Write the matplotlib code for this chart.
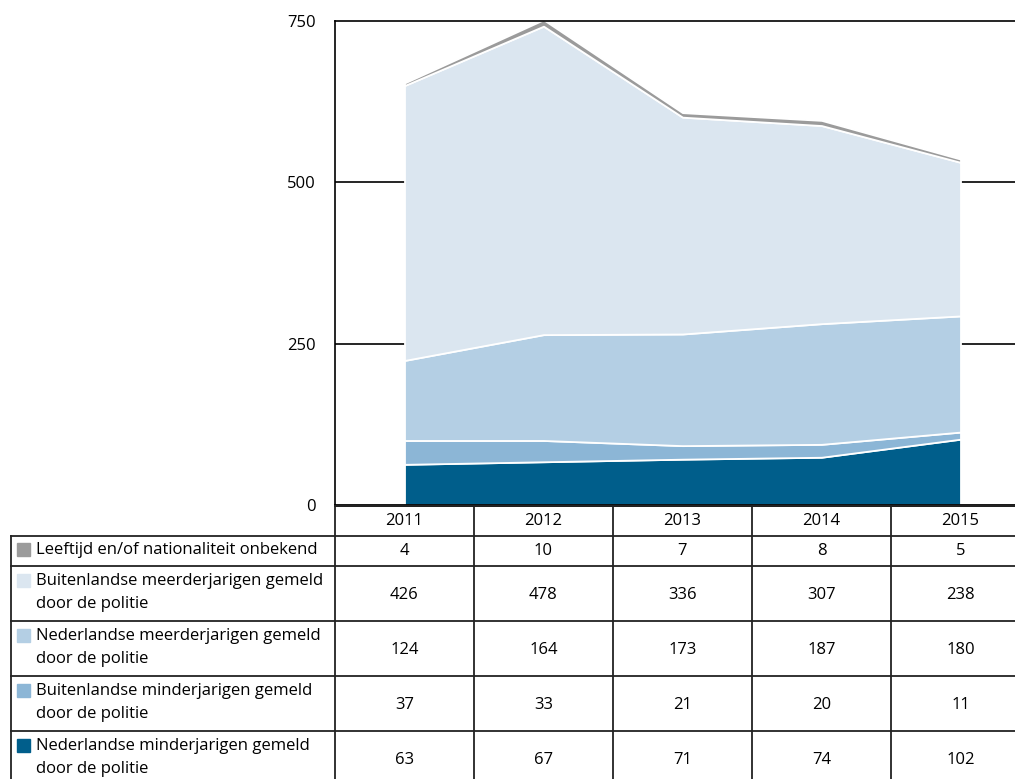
import matplotlib.pyplot as plt
import numpy as np

plt.rcParams['font.family'] = ['Open Sans', 'DejaVu Sans']

# jaren en reeksen (van onder naar boven gestapeld)
jaren = [2011, 2012, 2013, 2014, 2015]
nl_minder = [63, 67, 71, 74, 102]
bl_minder = [37, 33, 21, 20, 11]
nl_meer = [124, 164, 173, 187, 180]
bl_meer = [426, 478, 336, 307, 238]
onbekend = [4, 10, 7, 8, 5]

reeksen = [nl_minder, bl_minder, nl_meer, bl_meer, onbekend]
kleuren = ['#005e8b', '#8cb6d6', '#b4cfe4', '#dbe6f0', '#9b9b9b']
labels = ['Nederlandse minderjarigen gemeld\ndoor de politie',
          'Buitenlandse minderjarigen gemeld\ndoor de politie',
          'Nederlandse meerderjarigen gemeld\ndoor de politie',
          'Buitenlandse meerderjarigen gemeld\ndoor de politie',
          'Leeftijd en/of nationaliteit onbekend']
yticks = [0, 250, 500, 750]

W, H = 1015, 779
fs = 12
fig = plt.figure(figsize=(W / 100, H / 100), dpi=100)

# grafiek
ax = fig.add_axes([335 / W, (H - 505) / H, (W - 335) / W, (505 - 21) / H])
ax.stackplot(jaren, *reeksen, colors=kleuren,
             edgecolor='white', linewidth=1.3, zorder=2)
ax.set_xlim(2010.5, 2010.5 + (W - 335) / 139)
ax.set_ylim(0, 750)
ax.set_yticks(yticks)
ax.set_yticklabels([str(t) for t in yticks], fontsize=fs)
ax.tick_params(axis='y', length=0, pad=14)
ax.set_xticks([])
for t in [250, 500]:
    ax.axhline(t, color='black', linewidth=1.2, zorder=1)
ax.spines['right'].set_visible(False)
ax.spines['left'].set_linewidth(1.2)
ax.spines['top'].set_linewidth(1.2)
ax.spines['bottom'].set_linewidth(2)
ax.spines['top'].set_zorder(3)

# tabel onder de grafiek, in pixelcoordinaten
tab = fig.add_axes([0, 0, 1, (H - 505) / H])
tab.set_xlim(0, W)
tab.set_ylim(H, 505)
tab.axis('off')

lc = '#222222'
kol_w = 139
kol_x = [335 + kol_w * i for i in range(6)]
rijen = [536, 566, 621, 676, 731, 786]

tab.plot([335, W], [505, 505], color=lc, lw=2)
for y in rijen[:-1]:
    tab.plot([11, W], [y, y], color=lc, lw=1.3)
tab.plot([11, 11], [536, H], color=lc, lw=1.3)
for x in kol_x[:5]:
    tab.plot([x, x], [505, H], color=lc, lw=1.3)

for i, j in enumerate(jaren):
    tab.text(kol_x[i] + kol_w / 2, 521, str(j), ha='center', va='center', fontsize=fs)

# rijen van boven naar beneden
volgorde = [4, 3, 2, 1, 0]
for r, k in enumerate(volgorde):
    y0, y1 = rijen[r], rijen[r + 1]
    regels = labels[k].split('\n')
    ly = y0 + (14 if len(regels) == 1 else 15)
    tab.add_patch(plt.Rectangle((17, ly - 7), 13, 13, color=kleuren[k]))
    tab.text(36, ly, regels[0], ha='left', va='center', fontsize=fs)
    if len(regels) > 1:
        tab.text(36, y0 + 38, regels[1], ha='left', va='center', fontsize=fs)
    for i in range(len(jaren)):
        tab.text(kol_x[i] + kol_w / 2, (y0 + y1) / 2 + (1 if r else 0),
                 str(reeksen[k][i]), ha='center', va='center', fontsize=fs)

fig.savefig('out.png', dpi=100)
